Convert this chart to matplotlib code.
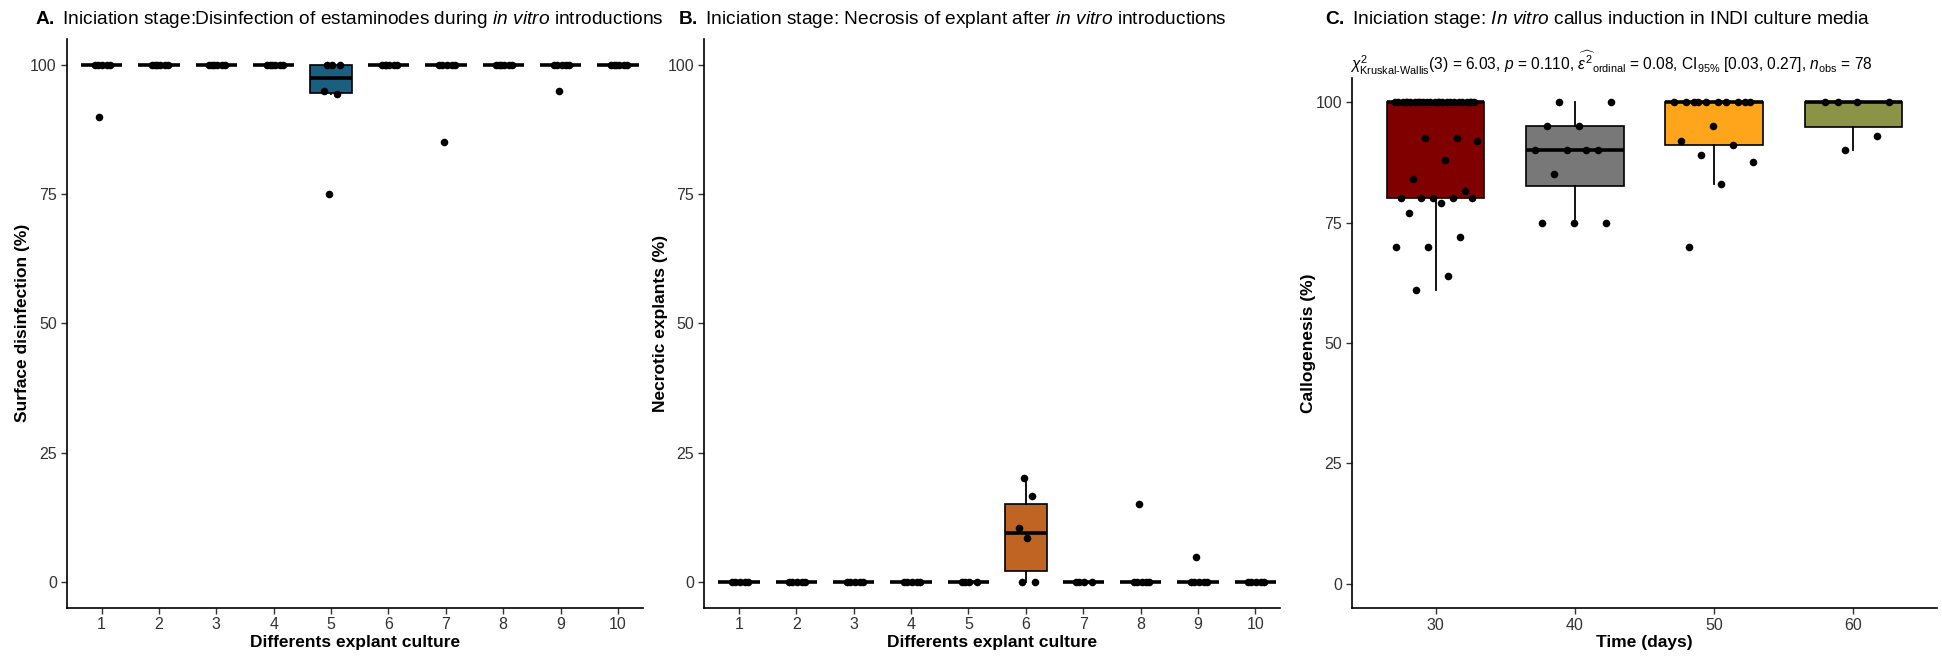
import matplotlib
matplotlib.use('Agg')
import matplotlib.pyplot as plt
import numpy as np

plt.rcParams['font.family'] = ['Liberation Sans', 'DejaVu Sans']
plt.rcParams['mathtext.fontset'] = 'custom'
plt.rcParams['mathtext.rm'] = 'Liberation Sans'
plt.rcParams['mathtext.it'] = 'Liberation Sans:italic'
plt.rcParams['mathtext.bf'] = 'Liberation Sans:bold'

# ---------------- data ----------------
explant_labels = ['1', '2', '3', '4', '5', '6', '7', '8', '9', '10']

disinfection = [
    [100, 100, 100, 100, 100, 90],
    [100, 100, 100, 100, 100, 100],
    [100, 100, 100, 100, 100, 100],
    [100, 100, 100, 100, 100, 100],
    [100, 100, 100, 95, 94.4, 75],
    [100, 100, 100, 100, 100, 100],
    [100, 100, 100, 100, 100, 85],
    [100, 100, 100, 100, 100, 100],
    [100, 100, 100, 100, 100, 95],
    [100, 100, 100, 100, 100, 100],
]

necrosis = [
    [0, 0, 0, 0, 0],
    [0, 0, 0, 0, 0],
    [0, 0, 0, 0, 0],
    [0, 0, 0, 0, 0],
    [0, 0, 0, 0],
    [0, 0, 8.5, 10.5, 16.7, 20],
    [0, 0, 0, 0],
    [0, 0, 0, 0, 0, 15],
    [0, 0, 0, 0, 0, 4.8],
    [0, 0, 0, 0, 0],
]

time_labels = ['30', '40', '50', '60']
callus_30 = [100] * 25 + [92.5, 92.6, 92, 88, 84, 81.5, 80, 80, 80, 80, 80,
                          79, 77, 72, 70, 70, 64, 61]
callus_40 = [100, 100, 95, 95, 90, 90, 90, 90, 85, 75, 75, 75]
callus_50 = [100] * 10 + [95, 92, 91, 89, 87.5, 83, 70]
callus_60 = [100, 100, 100, 100, 93, 90]
callus = [callus_30, callus_40, callus_50, callus_60]

fill_A = ['white'] * 4 + ['#1b5f80'] + ['white'] * 5
fill_B = ['white'] * 5 + ['#c06424'] + ['white'] * 4
fill_C = ['#800000', '#787878', '#ffa51c', '#8b9346']

# ---------------- figure ----------------
W, H = 1942, 656
fig = plt.figure(figsize=(W / 100, H / 100), dpi=100)


def add_axes(l, r, t, b):
    return fig.add_axes([l / W, 1 - b / H, (r - l) / W, (b - t) / H])


def jitter(n, width):
    k = np.arange(n)
    return ((k * 0.6180339887 + 0.31) % 1.0 - 0.5) * 2 * width


def draw_panel(ax, groups, fills, labels, box_w, jit_w, xlim):
    pos = np.arange(1, len(groups) + 1)
    bp = ax.boxplot(groups, positions=pos, widths=box_w, patch_artist=True,
                    showfliers=False, showcaps=False, whis=1.5,
                    medianprops=dict(color='black', lw=2.6),
                    boxprops=dict(edgecolor='black', lw=1.2),
                    whiskerprops=dict(color='black', lw=1.3))
    for patch, c in zip(bp['boxes'], fills):
        patch.set_facecolor(c)
    for i, g in enumerate(groups):
        x = pos[i] + jitter(len(g), jit_w)
        ax.scatter(x, g, s=30, color='black', zorder=4, linewidths=0)
    ax.set_xlim(*xlim)
    ax.set_ylim(-5, 105)
    ax.set_yticks([0, 25, 50, 75, 100])
    ax.set_xticks(pos)
    ax.set_xticklabels(labels)
    for s in ['top', 'right']:
        ax.spines[s].set_visible(False)
    for s in ['left', 'bottom']:
        ax.spines[s].set_linewidth(1.2)
    ax.tick_params(axis='both', labelsize=11.5, colors='#333333',
                   length=4, width=1.0, pad=3)


axA = add_axes(66.5, 642.7, 39, 607.7)
draw_panel(axA, disinfection, fill_A, explant_labels, 0.72, 0.18, (0.39, 10.43))
axA.set_ylabel('Surface disinfection (%)', fontsize=12.5, fontweight='bold', labelpad=0)
axA.set_xlabel('Differents explant culture', fontsize=12.5, fontweight='bold', labelpad=2)

axB = add_axes(704, 1280, 39, 607.7)
draw_panel(axB, necrosis, fill_B, explant_labels, 0.72, 0.18, (0.39, 10.43))
axB.set_ylabel('Necrotic explants (%)', fontsize=12.5, fontweight='bold', labelpad=0)
axB.set_xlabel('Differents explant culture', fontsize=12.5, fontweight='bold', labelpad=2)

axC = add_axes(1352, 1937, 78, 608)
draw_panel(axC, callus, fill_C, time_labels, 0.7, 0.3, (0.4, 4.6))
axC.set_ylabel('Callogenesis (%)', fontsize=12.5, fontweight='bold', labelpad=0)
axC.set_xlabel('Time (days)', fontsize=12.5, fontweight='bold', labelpad=2)

# titles
fig.text(35 / W, 1 - 20 / H,
         r'$\mathbf{A.}$ Iniciation stage:Disinfection of estaminodes during $\mathit{in\ vitro}$ introductions',
         fontsize=13.8, va='center', ha='left')
fig.text(678 / W, 1 - 20 / H,
         r'$\mathbf{B.}$ Iniciation stage: Necrosis of explant after $\mathit{in\ vitro}$ introductions',
         fontsize=13.8, va='center', ha='left')
fig.text(1325 / W, 1 - 20 / H,
         r'$\mathbf{C.}$ Iniciation stage: $\mathit{In\ vitro}$ callus induction in INDI culture media',
         fontsize=13.8, va='center', ha='left')
fig.text(1350 / W, 1 - 63 / H,
         r'$\chi^2_{\text{Kruskal-Wallis}}$(3) = 6.03, $\mathit{p}$ = 0.110, '
         r'$\widehat{\epsilon^2}_{\mathrm{ordinal}}$ = 0.08, $\mathrm{CI}_{95\%}$ [0.03, 0.27], '
         r'$\mathit{n}_{\mathrm{obs}}$ = 78',
         fontsize=11.2, va='center', ha='left')

fig.savefig('out.png', dpi=100, facecolor='white')
